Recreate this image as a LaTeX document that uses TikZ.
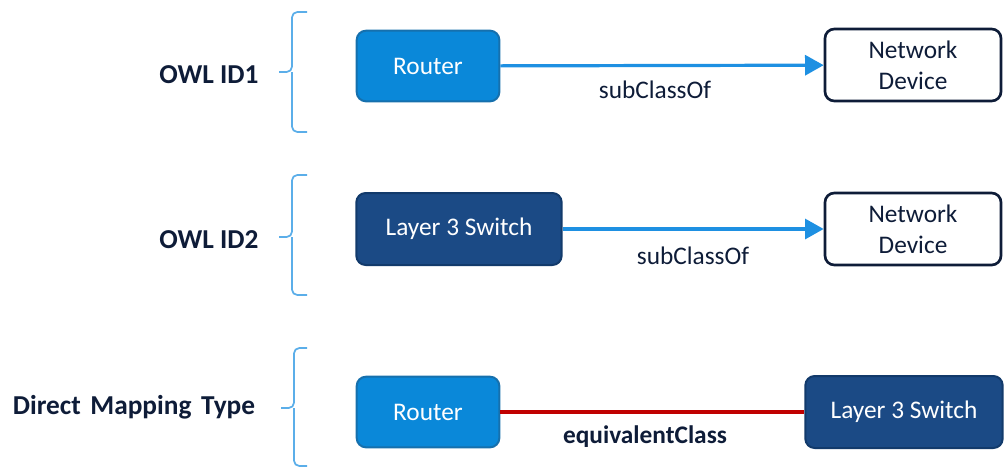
\documentclass[tikz,border=0pt]{standalone}
\usepackage{fontspec}
\setmainfont{Carlito}
\usetikzlibrary{arrows.meta, positioning}
\definecolor{lightblue}{HTML}{0A88D9}
\definecolor{lightblueedge}{HTML}{1670AD}
\definecolor{navy}{HTML}{1B4A85}
\definecolor{navyedge}{HTML}{123A6B}
\definecolor{inkdark}{HTML}{0E1C38}
\definecolor{arrowblue}{HTML}{1E90E2}
\definecolor{bracecol}{HTML}{5BAEE9}
\definecolor{eqred}{HTML}{C00000}

\begin{document}
\begin{tikzpicture}[
    x=0.75pt, y=-0.75pt,
    % GLOBAL CFG
    font=\fontsize{19}{23}\selectfont,
    % Styles
    lightbox/.style={% For the Router boxes
        rectangle,
        rounded corners=7pt,
        draw=lightblueedge,
        fill=lightblue,
        line width=1.5pt,
        text=white,
        minimum height=53pt,
        },
    darkbox/.style={% For the Layer 3 Switch boxes
        rectangle,
        rounded corners=7pt,
        draw=navyedge,
        fill=navy,
        line width=1.5pt,
        text=white,
        minimum height=54pt,
        },
    classbox/.style={% For the white boxes
        rectangle,
        rounded corners=7pt,
        draw=inkdark,
        fill=white,
        line width=2pt,
        text=inkdark,
        align=center,
        inner sep=1pt,
        minimum width=132pt,
        minimum height=54pt,
        },
    rowlabel/.style={% Labels left of the braces
        font=\fontsize{20.5}{24}\selectfont\bfseries,
        text=inkdark,
        },
    edgelabel/.style={% Labels under the connectors
        text=inkdark,
        },
    brace/.style={% The curly brackets
        draw=bracecol,
        line width=1.3pt,
        rounded corners=4pt,
        },
    ArrowSub/.style={% subClassOf arrows
        draw=arrowblue,
        line width=2.4pt,
        -{Triangle[length=14pt,width=15pt]},
        },
    LineEq/.style={% equivalentClass line
        draw=eqred,
        line width=2.8pt,
        },
    ]

\useasboundingbox (0,0) rectangle (1005,468);

    % Row labels named lab#
    \node [rowlabel] (lab1) at (209,75) {OWL ID1};
    \node [rowlabel] (lab2) at (209,240) {OWL ID2};
    \node [rowlabel] (lab3) at (134,407) {Direct\hspace{0.35em}Mapping\hspace{0.35em}Type};

    % Braces: tips named tip#
    \coordinate (tip1) at (279,72);
    \coordinate (tip2) at (279,237);
    \coordinate (tip3) at (281,408);
    \draw [brace] (307,12) -| (292,72) -- (tip1);
    \draw [brace] (tip1) ++(13,0) |- (307,132);
    \draw [brace] (307,175) -| (292,237) -- (tip2);
    \draw [brace] (tip2) ++(13,0) |- (307,295);
    \draw [brace] (307,348) -| (294,408) -- (tip3);
    \draw [brace] (tip3) ++(13,0) |- (307,466);

    % Row 1
    \node [lightbox, minimum width=107pt] (router1) at (428,66) {Router};
    \node [classbox] (dev1) at (913,65) {Network\\Device};
    % Row 2
    \node [darkbox, minimum width=154pt] (switch2) at (459,229) {Layer 3 Switch};
    \node [classbox] (dev2) at (913,229) {Network\\Device};
    % Row 3
    \node [lightbox, minimum width=107pt] (router3) at (428,412) {Router};
    \node [darkbox, minimum width=148pt] (switch3) at (904,412) {Layer 3 Switch};

    % Connectors
    \draw [ArrowSub] (router1) -- (dev1);
    \draw [ArrowSub] (switch2) -- (dev2);
    \draw [LineEq] (router3) -- (switch3);

    % Connector labels
    \node [edgelabel] (sub1) at (655,90) {subClassOf};
    \node [edgelabel] (sub2) at (693,256) {subClassOf};
    \node [edgelabel, font=\fontsize{19}{23}\selectfont\bfseries] (eq3) at (645,437) {equivalentClass};

\end{tikzpicture}
\end{document}
